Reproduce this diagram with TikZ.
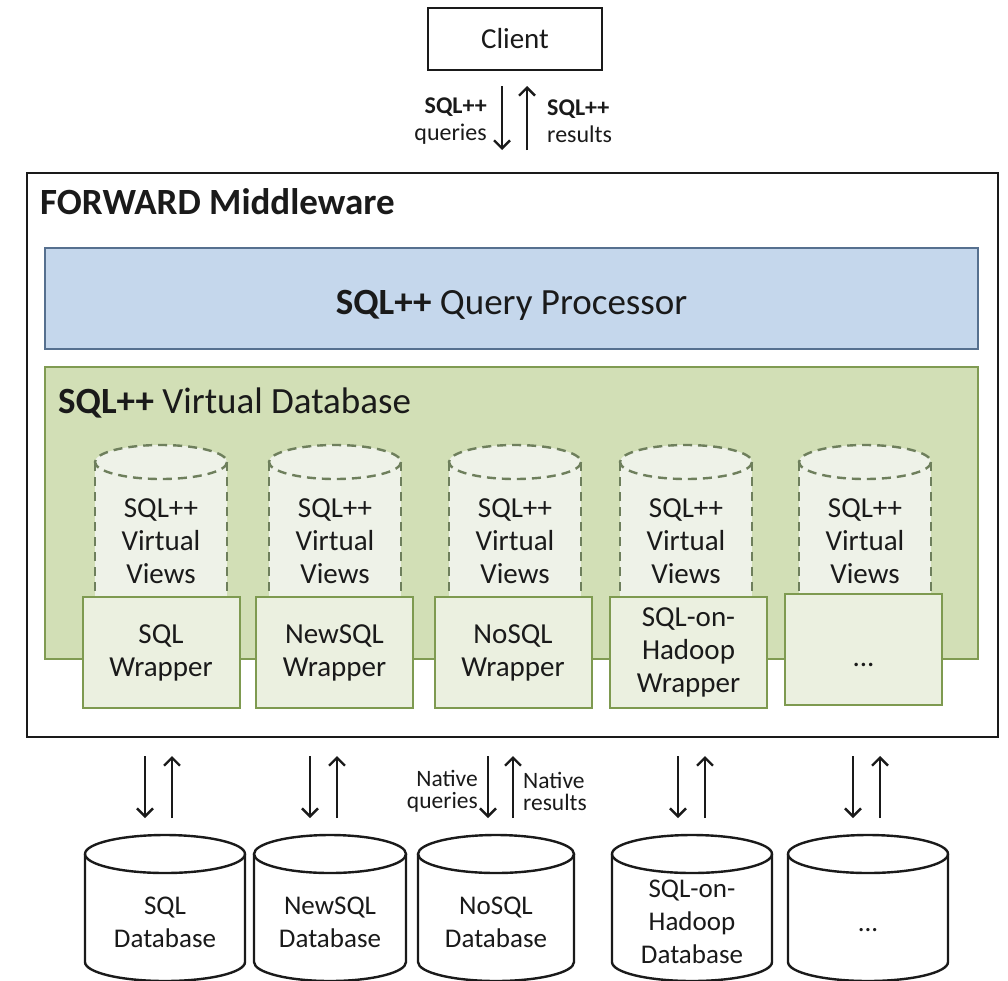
\documentclass[tikz,border=0pt]{standalone}
\usepackage{fontspec}
\setmainfont{Carlito}
\usetikzlibrary{arrows.meta}
\definecolor{qpfill}{HTML}{C5D7EC}
\definecolor{qpdraw}{HTML}{56708F}
\definecolor{vdbfill}{HTML}{D2DFB6}
\definecolor{vdbdraw}{HTML}{809B52}
\definecolor{wrapfill}{HTML}{EBF0E0}
\definecolor{wrapdraw}{HTML}{7E9A50}
\definecolor{vvfill}{HTML}{EEF2E8}
\definecolor{vvdraw}{HTML}{6E7F5C}
\definecolor{ink}{HTML}{1A1A1A}
\newcommand\fsz[2]{\fontsize{#1}{#2}\selectfont}
\begin{document}
\begin{tikzpicture}[x=1pt,y=-1pt,
  blackbox/.style={draw=ink, line width=2.6pt, fill=white, inner sep=0pt},
  qpbox/.style={draw=qpdraw, fill=qpfill, line width=2pt, inner sep=0pt, minimum width=933pt, minimum height=101pt},
  vdbbox/.style={draw=vdbdraw, fill=vdbfill, line width=2pt, inner sep=0pt, minimum width=933pt, minimum height=292pt},
  wrapbox/.style={draw=wrapdraw, fill=wrapfill, line width=2pt, inner sep=0pt, minimum width=157pt, minimum height=111pt, align=center, font=\fsz{29}{33}, text=ink},
  vvline/.style={draw=vvdraw, line width=2.4pt, dash pattern=on 9pt off 6pt},
  vvtext/.style={align=center, font=\fsz{29}{33}, text=ink, inner sep=0pt},
  dbline/.style={draw=ink, line width=2.4pt},
  dbtext/.style={align=center, font=\fsz{27}{33}, text=ink, inner sep=0pt},
  arr/.style={draw=ink, line width=2.4pt, -{Straight Barb[length=8pt,width=16pt]}},
  lbl/.style={font=\fsz{24}{27}, text=ink, inner sep=0pt},
  lblb/.style={font=\fsz{23.5}{22}, text=ink, inner sep=0pt},
  title/.style={text=ink, inner sep=0pt}
]
\useasboundingbox (0,0) rectangle (1008,980);

% Client
\node[blackbox, minimum width=174pt, minimum height=62pt, font=\fsz{29}{33}, text=ink] (client) at (515,39) {Client};

% top arrows
\coordinate (tq1) at (502,86);
\coordinate (tq2) at (502,150);
\coordinate (tr1) at (527,150);
\coordinate (tr2) at (527,86);
\draw[arr] (tq1) -- (tq2);
\draw[arr] (tr1) -- (tr2);
\node[lbl, anchor=east, align=right] (ql) at (487,121) {\textbf{SQL++}\\queries};
\node[lbl, anchor=west, align=left] (rl) at (547,121) {\textbf{SQL++}\\results};

% Middleware
\node[blackbox, minimum width=971pt, minimum height=564pt] (mw) at (512.5,455) {};
\node[title, anchor=base west, font=\bfseries\fsz{37}{42}] (mwt) at (40,214) {FORWARD Middleware};

% Query processor
\node[qpbox] (qp) at (511.5,298.5) {};
\node[title, anchor=base, font=\fsz{37}{42}] (qpt) at (511.5,314) {\textbf{SQL++} Query Processor};

% Virtual database
\node[vdbbox] (vdb) at (511.5,513) {};
\node[title, anchor=base west, font=\fsz{37}{42}] (vdbt) at (58,413) {\textbf{SQL++} Virtual Database};

% dashed virtual-view cylinders
\foreach \cx/\n in {161/1,335/2,515/3,686/4,865/5}{
  \fill[vvfill] (\cx-66,462) rectangle (\cx+66,597);
  \fill[vvfill] (\cx,462) ellipse[x radius=66, y radius=17];
  \draw[vvline] (\cx-66,462) -- (\cx-66,597) (\cx+66,462) -- (\cx+66,597);
  \draw[vvline] (\cx,462) ellipse[x radius=66, y radius=17];
  \node[vvtext] (vv\n) at (\cx,541) {SQL++\\Virtual\\Views};
}

% wrappers
\node[wrapbox] (w1) at (161,652.5) {SQL\\Wrapper};
\node[wrapbox] (w2) at (334.5,652.5) {NewSQL\\Wrapper};
\node[wrapbox] (w3) at (513,652.5) {NoSQL\\Wrapper};
\node[wrapbox] (w4) at (688.5,652.5) {SQL-on-\\Hadoop\\Wrapper};
\node[wrapbox] (w5) at (863.5,649.5) {};
\node[title, font=\fsz{29}{33}, anchor=base] (w5t) at (863.5,666) {...};

% bottom arrows
\foreach \a/\b/\n in {145/172/1,310/337/2,488/513/3,678/705/4,853/880/5}{
  \coordinate (bq\n s) at (\a,756);
  \coordinate (bq\n e) at (\a,818);
  \coordinate (br\n s) at (\b,818);
  \coordinate (br\n e) at (\b,756);
  \draw[arr] (bq\n s) -- (bq\n e);
  \draw[arr] (br\n s) -- (br\n e);
}
\node[lblb, anchor=east, align=right] (nq) at (478,791) {Native\\queries};
\node[lblb, anchor=west, align=left] (nr) at (523,791) {Native\\results};

% database cylinders
\foreach \cx/\rx/\n in {165/80/1,330/76/2,496/78/3,692/80/4,868/80/5}{
  \draw[dbline, fill=white] (\cx-\rx,854) -- (\cx-\rx,962) arc[start angle=180, end angle=0, x radius=\rx, y radius=19] -- (\cx+\rx,854);
  \draw[dbline] (\cx,854) ellipse[x radius=\rx, y radius=19];
}
\node[dbtext] (db1) at (165,922) {SQL\\Database};
\node[dbtext] (db2) at (330,922) {NewSQL\\Database};
\node[dbtext] (db3) at (496,922) {NoSQL\\Database};
\node[dbtext] (db4) at (692,922) {SQL-on-\\Hadoop\\Database};
\node[dbtext, anchor=base] (db5) at (868,931) {...};
\end{tikzpicture}
\end{document}
